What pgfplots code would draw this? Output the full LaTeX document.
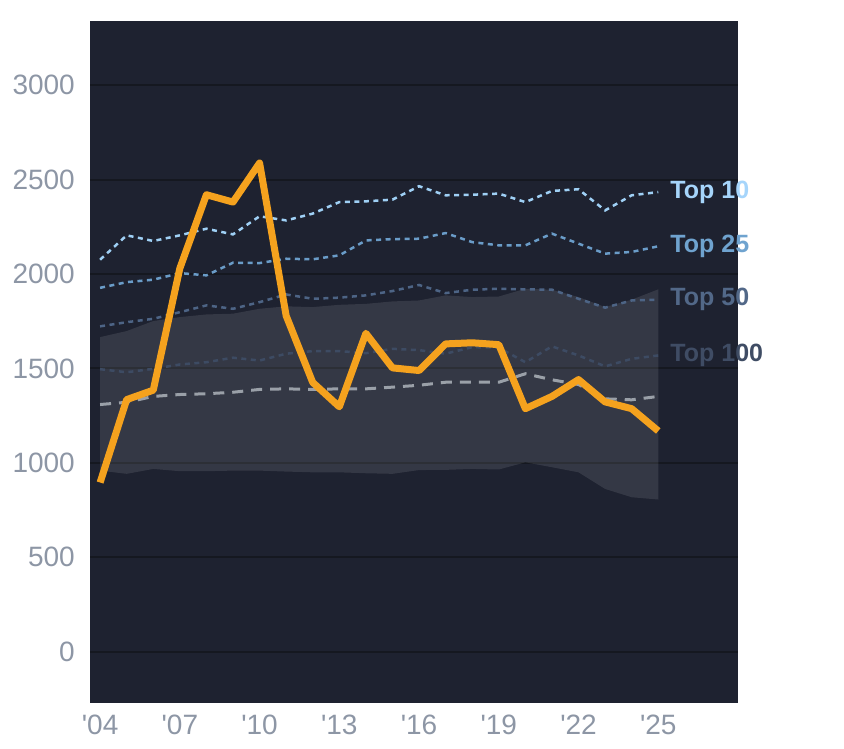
\documentclass[border=0pt]{standalone}
\usepackage{pgfplots}
\pgfplotsset{compat=1.18}
\usepackage{pgfplotstable}
\usepgfplotslibrary{fillbetween}
\usepackage{fontspec}
\setmainfont{Liberation Sans}[Ligatures=TeXOff]
\definecolor{bg}{HTML}{1E2230}
\definecolor{gridc}{HTML}{151820}
\definecolor{tickc}{HTML}{8D96A5}
\definecolor{cten}{HTML}{9FD0F5}
\definecolor{ctwf}{HTML}{6A9CC8}
\definecolor{cfif}{HTML}{4D6485}
\definecolor{chun}{HTML}{3D4B63}
\definecolor{cmed}{HTML}{9AA0A8}
\definecolor{corg}{HTML}{F5A21E}
\definecolor{lten}{HTML}{A6D5FB}
\definecolor{ltwf}{HTML}{6FA3CF}
\definecolor{lfif}{HTML}{526888}
\definecolor{lhun}{HTML}{3F4C64}

\pgfplotstableread{
year top10 top25 top50 top100 med lo hi val
2004 2076 1927 1723 1496 1309 959 1666 896
2005 2205 1957 1745 1480 1321 942 1698 1335
2006 2175 1970 1763 1498 1352 968 1751 1385
2007 2205 2005 1798 1521 1362 956 1772 2030
2008 2240 1993 1834 1533 1366 956 1786 2420
2009 2210 2060 1816 1557 1374 959 1790 2381
2010 2306 2058 1851 1542 1389 959 1816 2588
2011 2284 2081 1892 1578 1392 954 1829 1779
2012 2320 2078 1869 1592 1389 950 1825 1426
2013 2381 2099 1875 1592 1392 950 1837 1297
2014 2385 2178 1887 1581 1392 945 1842 1686
2015 2394 2185 1910 1604 1401 942 1855 1503
2016 2465 2187 1942 1597 1411 962 1860 1489
2017 2417 2217 1899 1578 1427 963 1887 1630
2018 2420 2169 1917 1613 1427 968 1878 1636
2019 2426 2152 1922 1610 1427 965 1881 1626
2020 2381 2152 1919 1533 1472 1003 1922 1287
2021 2440 2214 1917 1617 1440 977 1917 1352
2022 2449 2161 1869 1569 1415 950 1878 1441
2023 2337 2108 1822 1511 1339 862 1825 1323
2024 2417 2117 1860 1551 1334 818 1864 1287
2025 2434 2147 1864 1569 1352 806 1919 1169
}\data

\begin{document}
\begin{tikzpicture}
\begin{axis}[
  at={(90pt,45.3pt)}, anchor=south west,
  scale only axis, width=648pt, height=681.7pt,
  xmin=2003.62, xmax=2028, ymin=-270, ymax=3340,
  axis line style={draw=none},
  axis background/.style={fill=bg},
  clip=false,
  ymajorgrids, grid style={gridc, line width=2pt},
  ytick={0,500,...,3000},
  xtick={2004,2007,...,2025},
  xticklabels={'04,'07,'10,'13,'16,'19,'22,'25},
  major tick length=0pt,
  tick style={draw=none},
  /pgf/number format/assume math mode=true,
  /pgf/number format/1000 sep={},
  tick label style={font=\fontsize{28}{32}\selectfont, text=tickc, inner sep=0pt},
  yticklabel style={anchor=east, xshift=-15pt},
  xticklabel style={anchor=north, yshift=-12pt},
]
\addplot[draw=none, name path=hi] table[x=year, y=hi] {\data};
\addplot[draw=none, name path=lo] table[x=year, y=lo] {\data};
\addplot[fill=white, fill opacity=0.1, draw=none] fill between[of=hi and lo];

\addplot[chun, line width=2.5pt, dash pattern=on 5pt off 4.5pt] table[x=year, y=top100] {\data};
\addplot[cfif, line width=2.5pt, dash pattern=on 5pt off 4.5pt] table[x=year, y=top50] {\data};
\addplot[ctwf, line width=2.5pt, dash pattern=on 5pt off 4.5pt] table[x=year, y=top25] {\data};
\addplot[cten, line width=2.5pt, dash pattern=on 5pt off 4.5pt] table[x=year, y=top10] {\data};
\addplot[cmed, line width=3pt, dash pattern=on 11pt off 8pt] table[x=year, y=med] {\data};
\addplot[corg, line width=7pt, line join=round] table[x=year, y=val] {\data};

\node[anchor=west, inner sep=0pt, xshift=12pt, text=lten, font=\bfseries\fontsize{25}{28}\selectfont] at (axis cs:2025,2434) {Top 10};
\node[anchor=west, inner sep=0pt, xshift=12pt, text=ltwf, font=\bfseries\fontsize{25}{28}\selectfont] at (axis cs:2025,2147) {Top 25};
\node[anchor=west, inner sep=0pt, xshift=12pt, text=lfif, font=\bfseries\fontsize{25}{28}\selectfont] at (axis cs:2025,1864) {Top 50};
\node[anchor=west, inner sep=0pt, xshift=12pt, text=lhun, font=\bfseries\fontsize{25}{28}\selectfont] at (axis cs:2025,1569) {Top 100};
\end{axis}
\path (0,0) rectangle (844pt,748pt);
\end{tikzpicture}
\end{document}
